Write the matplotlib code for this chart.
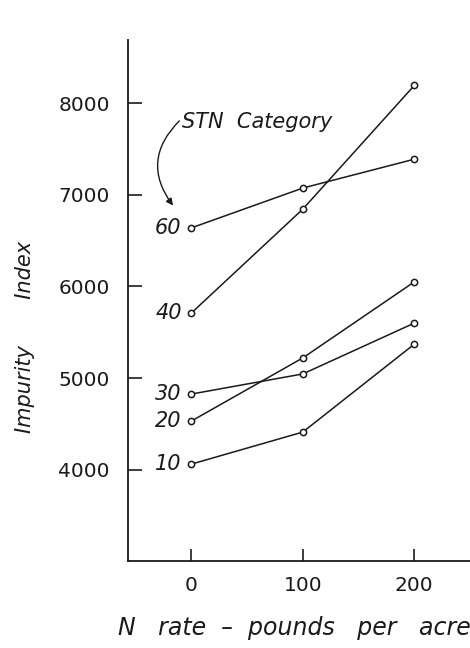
#!/usr/bin/env python3
# -*- coding: utf-8 -*-
"""
Impurity index vs N rate, one line per STN category
"""

import matplotlib
matplotlib.use('Agg')
import matplotlib.pyplot as plt

# Data
n_rate = [0, 100, 200]
stn_categories = ['60', '40', '30', '20', '10']
impurity_60 = [6640, 7075, 7390]
impurity_40 = [5710, 6845, 8195]
impurity_30 = [4825, 5045, 5600]
impurity_20 = [4530, 5220, 6050]
impurity_10 = [4060, 4410, 5370]
series = [impurity_60, impurity_40, impurity_30, impurity_20, impurity_10]

x_ticks = [0, 100, 200]
y_ticks = [4000, 5000, 6000, 7000, 8000]

plt.rcParams['font.family'] = ['DejaVu Sans']
ink = '#1a1a1a'

fig = plt.figure(figsize=(4.70, 6.48), dpi=100)
ax = fig.add_axes([0.272, 0.134, 0.728, 0.804])

for cat, vals in zip(stn_categories, series):
    ax.plot(n_rate, vals, color=ink, lw=1.1, marker='o', markersize=4.5,
            markerfacecolor='white', markeredgecolor=ink, markeredgewidth=1.1,
            clip_on=False)
    # category label just left of the first point
    ax.annotate(cat, xy=(n_rate[0], vals[0]), xytext=(-7, 0),
                textcoords='offset points', ha='right', va='center',
                fontsize=15, style='italic', color=ink)

# "STN Category" note with curved arrow pointing to the labels
ax.text(-8, 7800, 'STN  Category', fontsize=15, style='italic',
        color=ink, ha='left', va='center')
ax.annotate('', xy=(-15, 6860), xytext=(-9, 7830),
            arrowprops=dict(arrowstyle='-|>', color=ink, lw=1.0,
                            mutation_scale=10,
                            connectionstyle='arc3,rad=0.45'))

ax.set_xlim(-57, 250)
ax.set_ylim(3000, 8690)
ax.set_xticks(x_ticks)
ax.set_yticks(y_ticks)

ax.tick_params(axis='y', direction='in', length=10, width=1.2, pad=13,
               labelsize=14.5, colors=ink)
ax.tick_params(axis='x', direction='in', length=9, width=1.2, pad=11,
               labelsize=14.5, colors=ink)

for side in ['top', 'right']:
    ax.spines[side].set_visible(False)
for side in ['left', 'bottom']:
    ax.spines[side].set_linewidth(1.3)
    ax.spines[side].set_color(ink)

ax.set_ylabel('Impurity       Index', fontsize=15, style='italic',
              color=ink)
ax.yaxis.set_label_coords(-0.27, 0.43)
fig.text(0.25, 0.012, 'N   rate  \u2013  pounds   per   acre', fontsize=17,
         style='italic', color=ink, ha='left', va='bottom')

plt.savefig('out.png', dpi=100)
